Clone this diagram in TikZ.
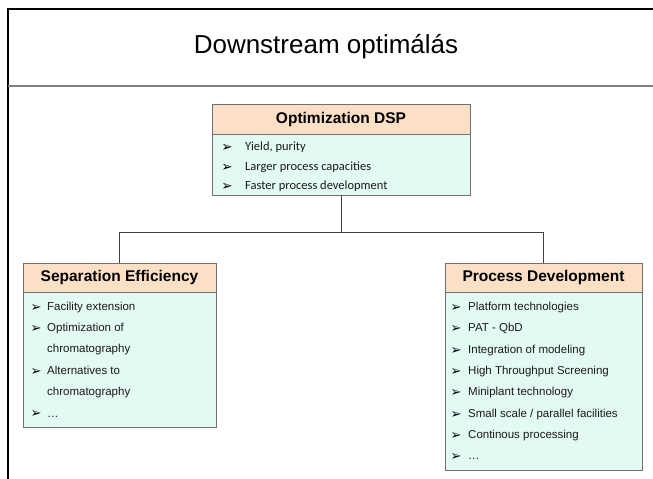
\documentclass[tikz,border=0pt]{standalone}
\usepackage{fontspec}
\setmainfont{Liberation Sans}
\newfontfamily\calfont{Carlito}
\newfontfamily\dvfont{DejaVu Sans}
\definecolor{headfill}{HTML}{FCE0C6}
\definecolor{bodyfill}{HTML}{E2FAF3}
\definecolor{boxgray}{HTML}{707070}
\definecolor{linegray}{HTML}{404040}
\definecolor{textgray}{HTML}{1A1A1A}
\tikzset{
  headbox/.style={draw=boxgray, fill=headfill, line width=0.9pt, inner sep=0pt, text=black,
    font=\bfseries\fontsize{15.5}{18}\selectfont},
  bodybox/.style={draw=boxgray, fill=bodyfill, line width=0.9pt, inner sep=0pt},
  sitem/.style={anchor=mid west, inner sep=0pt, text=textgray, font=\fontsize{11.5}{14}\selectfont},
  titem/.style={anchor=mid west, inner sep=0pt, text=textgray, font=\calfont\fontsize{12.5}{15}\selectfont},
  sbul/.style={anchor=center, inner sep=0pt, text=black, font=\dvfont\fontsize{13}{14}\selectfont},
  tbul/.style={anchor=center, inner sep=0pt, text=black, font=\dvfont\fontsize{13.5}{14}\selectfont},
  link/.style={draw=linegray, line width=0.9pt},
}
\begin{document}
\begin{tikzpicture}[x=1pt,y=-1pt]
\useasboundingbox (0,0) rectangle (653,479);
\fill[white] (0,0) rectangle (653,479);
% frame
\draw[black, line width=2.4pt] (8,479) -- (8,9) -- (653,9);
\draw[gray, line width=1.8pt] (8,86) -- (653,86);
\node[inner sep=0pt, font=\fontsize{26}{30}\selectfont] (title) at (326,47) {Downstream optimálás};

% top box
\node[headbox, minimum width=258pt, minimum height=30pt] (tophead) at (341,119) {Optimization DSP};
\node[bodybox, minimum width=258pt, minimum height=61pt] (topbody) at (341,164.5) {};
\foreach \y/\t [count=\i] in {148/{Yield, purity},168/{Larger process capacities},187/{Faster process development}}{
  \node[tbul] (tb\i) at (227,\y) {➢};
  \node[titem] (ti\i) at (245,\y) {\t};
}

% left box
\node[headbox, minimum width=193pt, minimum height=29pt] (lefthead) at (119.5,277.5) {Separation Efficiency};
\node[bodybox, minimum width=193pt, minimum height=135pt] (leftbody) at (119.5,359.5) {};
\node[sbul] (lb1) at (36,308) {➢};
\node[sitem] (li1) at (47,308) {Facility extension};
\node[sbul] (lb2) at (36,329) {➢};
\node[sitem] (li2) at (47,329) {Optimization of};
\node[sitem] (li3) at (47,350) {chromatography};
\node[sbul] (lb3) at (36,372) {➢};
\node[sitem] (li4) at (47,372) {Alternatives to};
\node[sitem] (li5) at (47,393) {chromatography};
\node[sbul] (lb4) at (36,414) {➢};
\node[sitem] (li6) at (47,415) {\dots};

% right box
\node[headbox, minimum width=197pt, minimum height=29pt] (righthead) at (543.5,277.5) {Process Development};
\node[bodybox, minimum width=197pt, minimum height=178pt] (rightbody) at (543.5,381) {};
\foreach \y/\t [count=\i] in {308/{Platform technologies},329.3/{PAT - QbD},350.6/{Integration of modeling},372/{High Throughput Screening},393/{Miniplant technology},414.6/{Small scale / parallel facilities},436/{Continous processing},457/{\dots}}{
  \node[sbul] (rb\i) at (456,\y) {➢};
  \node[sitem] (ri\i) at (468,\y) {\t};
}

% connectors
\coordinate (junction) at (341,232);
\draw[link] (topbody.south) -- (junction);
\draw[link] (junction) -| (lefthead.north);
\draw[link] (junction) -| (righthead.north);
\end{tikzpicture}
\end{document}
